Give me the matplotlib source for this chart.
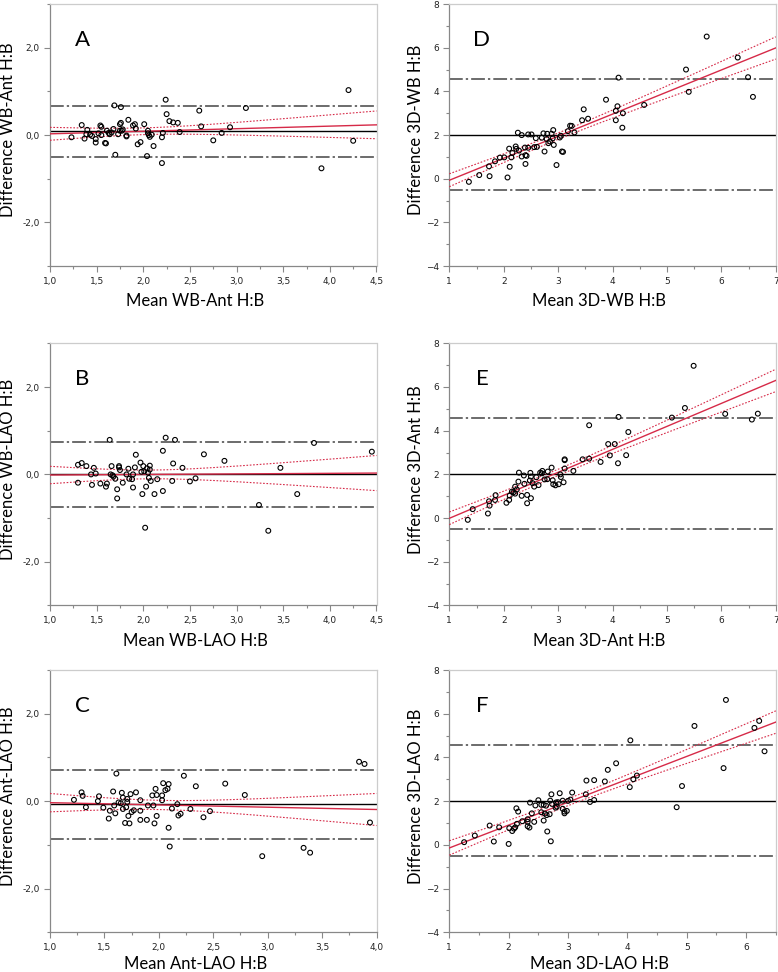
import matplotlib
matplotlib.use('Agg')
import matplotlib.pyplot as plt
from matplotlib.ticker import MultipleLocator, FuncFormatter
import numpy as np

# panel A: WB vs Ant
a_mean = [1.23, 1.34, 1.37, 1.40, 1.39, 1.43, 1.45, 1.49, 1.49, 1.52, 1.54, 1.55, 1.55, 1.59, 1.60,
          1.61, 1.63, 1.64, 1.66, 1.68, 1.69, 1.70, 1.73, 1.75, 1.75, 1.76, 1.76, 1.77, 1.78, 1.82,
          1.82, 1.84, 1.89, 1.91, 1.92, 1.94, 1.97, 2.01, 2.04, 2.05, 2.05, 2.06, 2.07, 2.09, 2.11,
          2.20, 2.20, 2.21, 2.24, 2.25, 2.28, 2.32, 2.37, 2.39, 2.60, 2.62, 2.75, 2.84, 2.93, 3.10,
          3.91, 4.20, 4.25]
a_diff = [-0.05, 0.23, -0.08, 0.12, 0.02, 0.01, -0.02, -0.09, -0.17, 0.04, 0.22, 0.19, 0.00, -0.18, -0.19,
          0.10, 0.05, 0.02, 0.06, 0.14, 0.68, -0.45, 0.02, 0.10, 0.25, 0.28, 0.64, 0.10, 0.13, -0.01,
          -0.03, 0.35, 0.22, 0.25, 0.15, -0.21, -0.16, 0.25, -0.48, 0.10, 0.04, 0.00, -0.04, 0.01, -0.25,
          -0.64, -0.05, 0.05, 0.81, 0.48, 0.32, 0.29, 0.28, 0.07, 0.56, 0.20, -0.12, 0.05, 0.18, 0.62,
          -0.76, 1.03, -0.13]

# panel B: WB vs LAO
b_mean = [1.30, 1.30, 1.34, 1.39, 1.44, 1.45, 1.47, 1.49, 1.54, 1.60, 1.61, 1.64, 1.65, 1.66, 1.67,
          1.68, 1.70, 1.72, 1.72, 1.74, 1.74, 1.75, 1.78, 1.82, 1.84, 1.85, 1.88, 1.89, 1.89, 1.91,
          1.92, 1.97, 1.98, 1.99, 2.00, 2.01, 2.02, 2.03, 2.04, 2.05, 2.06, 2.07, 2.07, 2.08, 2.12,
          2.15, 2.21, 2.21, 2.24, 2.31, 2.32, 2.34, 2.42, 2.50, 2.56, 2.65, 2.87, 3.24, 3.34, 3.47,
          3.65, 3.83, 4.45]
b_diff = [0.22, -0.19, 0.26, 0.19, 0.00, -0.24, 0.15, 0.02, -0.21, -0.28, -0.21, 0.79, 0.00, 0.19, -0.02,
          -0.05, -0.10, -0.55, -0.34, 0.19, 0.16, 0.10, -0.19, 0.00, 0.13, -0.10, -0.11, 0.00, -0.30, 0.16,
          0.45, 0.27, 0.06, -0.45, 0.19, 0.07, -1.22, -0.28, 0.14, 0.04, -0.08, 0.20, 0.11, -0.15, -0.45,
          -0.11, 0.54, -0.38, 0.84, -0.15, 0.25, 0.79, 0.15, -0.16, -0.09, 0.46, 0.31, -0.70, -1.29, 0.15,
          -0.45, 0.72, 0.52]

# panel C: Ant vs LAO
c_mean = [1.22, 1.29, 1.30, 1.33, 1.44, 1.45, 1.49, 1.54, 1.55, 1.58, 1.59, 1.60, 1.61, 1.63, 1.65,
          1.66, 1.67, 1.67, 1.69, 1.70, 1.71, 1.71, 1.72, 1.73, 1.74, 1.75, 1.77, 1.79, 1.83, 1.83,
          1.83, 1.89, 1.90, 1.94, 1.95, 1.96, 1.97, 1.98, 1.98, 2.03, 2.03, 2.04, 2.06, 2.08, 2.09,
          2.09, 2.10, 2.12, 2.17, 2.18, 2.20, 2.23, 2.29, 2.34, 2.41, 2.47, 2.61, 2.79, 2.95, 3.33,
          3.39, 3.84, 3.89, 3.94]
c_diff = [0.03, 0.20, 0.12, -0.14, 0.00, 0.11, -0.15, -0.40, -0.22, 0.22, -0.10, -0.28, 0.63, -0.03, -0.05,
          0.19, -0.18, 0.08, -0.50, -0.14, -0.02, 0.05, -0.34, -0.51, 0.16, -0.25, -0.21, 0.20, -0.22, 0.02,
          -0.43, -0.43, -0.10, 0.13, -0.10, -0.51, 0.28, 0.14, -0.34, 0.13, 0.02, 0.41, 0.25, 0.28, 0.39,
          -0.61, -1.04, -0.17, -0.07, -0.33, -0.29, 0.58, -0.18, 0.34, -0.37, -0.23, 0.40, 0.14, -1.26, -1.07,
          -1.18, 0.90, 0.85, -0.49]

# panel D: 3D vs WB
d_mean = [1.36, 1.55, 1.73, 1.74, 1.84, 1.93, 2.01, 2.07, 2.10, 2.11, 2.14, 2.16, 2.22, 2.23, 2.26,
          2.28, 2.33, 2.33, 2.39, 2.40, 2.40, 2.42, 2.45, 2.45, 2.51, 2.56, 2.59, 2.61, 2.70, 2.73,
          2.75, 2.79, 2.80, 2.82, 2.85, 2.88, 2.90, 2.91, 2.92, 2.97, 3.03, 3.05, 3.07, 3.09, 3.18,
          3.22, 3.25, 3.30, 3.44, 3.47, 3.55, 3.88, 4.06, 4.06, 4.09, 4.11, 4.18, 4.19, 4.58, 5.35,
          5.40, 5.73, 6.30, 6.49, 6.58]
d_diff = [-0.14, 0.17, 0.57, 0.12, 0.80, 0.97, 0.98, 0.06, 1.38, 0.55, 0.98, 1.18, 1.48, 1.37, 2.11,
          1.29, 2.00, 1.02, 1.43, 1.08, 0.68, 1.05, 2.03, 1.42, 2.03, 1.45, 1.86, 1.46, 1.88, 2.08,
          1.25, 1.82, 2.06, 1.63, 1.71, 2.06, 1.85, 2.23, 1.55, 0.63, 1.89, 1.97, 1.25, 1.23, 2.18,
          2.43, 2.42, 2.12, 2.68, 3.18, 2.75, 3.62, 2.68, 3.11, 3.32, 4.63, 2.34, 3.00, 3.38, 5.00,
          3.98, 6.51, 5.55, 4.65, 3.75]

# panel E: 3D vs Ant
e_mean = [1.34, 1.43, 1.71, 1.73, 1.74, 1.85, 1.84, 2.05, 2.10, 2.11, 2.15, 2.18, 2.21, 2.21, 2.24,
          2.28, 2.27, 2.33, 2.37, 2.38, 2.43, 2.43, 2.49, 2.48, 2.50, 2.50, 2.53, 2.56, 2.60, 2.64,
          2.67, 2.70, 2.71, 2.75, 2.80, 2.81, 2.88, 2.90, 2.91, 2.95, 3.01, 3.04, 3.05, 3.10, 3.12,
          3.12, 3.12, 3.28, 3.45, 3.57, 3.57, 3.78, 3.92, 3.95, 4.04, 4.10, 4.11, 4.25, 4.29, 5.09,
          5.33, 5.49, 6.07, 6.56, 6.67]
e_diff = [-0.08, 0.41, 0.21, 0.77, 0.57, 1.05, 0.83, 0.70, 0.83, 1.03, 1.21, 1.18, 1.44, 1.12, 1.31,
          2.08, 1.67, 1.02, 1.95, 1.57, 1.06, 0.68, 2.07, 1.72, 0.91, 1.90, 1.60, 1.44, 1.87, 1.51,
          2.08, 2.05, 2.16, 1.77, 1.78, 2.13, 2.31, 1.73, 1.55, 1.50, 1.55, 2.00, 1.88, 1.64, 2.69,
          2.65, 2.27, 2.16, 2.69, 4.25, 2.72, 2.57, 3.39, 2.87, 3.39, 2.51, 4.63, 2.88, 3.94, 4.60,
          5.04, 6.97, 4.77, 4.51, 4.78]

# panel F: 3D vs LAO
f_mean = [1.25, 1.43, 1.68, 1.75, 1.84, 2.00, 2.01, 2.06, 2.09, 2.11, 2.13, 2.14, 2.16, 2.23, 2.32,
          2.32, 2.32, 2.35, 2.36, 2.39, 2.43, 2.45, 2.50, 2.55, 2.55, 2.59, 2.59, 2.61, 2.63, 2.64,
          2.65, 2.69, 2.70, 2.72, 2.71, 2.73, 2.79, 2.80, 2.81, 2.83, 2.86, 2.91, 2.91, 2.94, 2.94,
          2.98, 3.00, 3.04, 3.07, 3.30, 3.31, 3.37, 3.44, 3.44, 3.62, 3.67, 3.81, 4.04, 4.05, 4.10,
          4.16, 4.83, 4.92, 5.13, 5.62, 5.66, 6.14, 6.22, 6.31]
f_diff = [0.12, 0.42, 0.88, 0.15, 0.80, 0.04, 0.76, 0.63, 0.74, 0.80, 1.67, 0.96, 1.52, 1.08, 1.05,
          1.17, 0.85, 0.79, 1.93, 1.44, 1.05, 1.80, 2.04, 1.83, 1.49, 1.83, 1.11, 1.43, 1.79, 1.36,
          0.61, 1.40, 2.02, 2.31, 0.16, 1.87, 1.70, 1.94, 1.75, 1.95, 2.36, 2.02, 1.65, 1.44, 1.52,
          1.55, 2.01, 2.07, 2.39, 2.31, 2.94, 1.96, 2.05, 2.96, 2.90, 3.43, 3.73, 2.64, 4.78, 3.00,
          3.17, 1.72, 2.69, 5.44, 3.51, 6.63, 5.35, 5.67, 4.28]

letters = ['A', 'B', 'C', 'D', 'E', 'F']
x_labels = ['Mean WB-Ant H:B', 'Mean WB-LAO H:B', 'Mean Ant-LAO H:B',
            'Mean 3D-WB H:B', 'Mean 3D-Ant H:B', 'Mean 3D-LAO H:B']
y_labels = ['Difference WB-Ant H:B', 'Difference WB-LAO H:B', 'Difference Ant-LAO H:B',
            'Difference 3D-WB H:B', 'Difference 3D-Ant H:B', 'Difference 3D-LAO H:B']
# bias and limits of agreement
bias = [0.09, 0.00, -0.07, 2.02, 2.03, 2.01]
loa_upper = [0.67, 0.75, 0.71, 4.56, 4.60, 4.55]
loa_lower = [-0.49, -0.75, -0.87, -0.52, -0.48, -0.51]
x_limits = [(1.0, 4.5), (1.0, 4.5), (1.0, 4.0), (1, 7), (1, 7), (1, 6.5)]
y_limits = [(-3, 3), (-3, 3), (-3, 3), (-4, 8), (-4, 8), (-4, 8)]

means = [a_mean, b_mean, c_mean, d_mean, e_mean, f_mean]
diffs = [a_diff, b_diff, c_diff, d_diff, e_diff, f_diff]

RED = '#d62a48'

fig = plt.figure(figsize=(7.78, 9.72), dpi=100)

W, H = 778.0, 972.0
lefts = [50, 449.3]
tops = [4, 343.3, 670]
ax_w = 326.5
ax_h = 262.2


def comma_fmt(decimals):
    def f(v, pos):
        s = f'{v:.{decimals}f}'.replace('.', ',')
        if s.startswith('-0') and float(v) == 0:
            s = s[1:]
        return s
    return FuncFormatter(f)


for i in range(6):
    col = i // 3
    row = i % 3
    rect = [lefts[col] / W, 1 - (tops[row] + ax_h) / H, ax_w / W, ax_h / H]
    ax = fig.add_axes(rect)
    x = np.array(means[i])
    y = np.array(diffs[i])
    x0, x1 = x_limits[i]

    # mean and limits of agreement
    ax.axhline(bias[i], color='black', lw=1.0, zorder=2)
    ax.axhline(loa_upper[i], color='#444444', lw=1.1, ls=(0, (9, 2, 1.5, 2)), zorder=2)
    ax.axhline(loa_lower[i], color='#444444', lw=1.1, ls=(0, (9, 2, 1.5, 2)), zorder=2)

    # regression of difference on mean with 95% CI
    slope, intercept = np.polyfit(x, y, 1)
    xs = np.linspace(x0, x1, 200)
    fit = intercept + slope * xs
    n = len(x)
    resid = y - (intercept + slope * x)
    s = np.sqrt(np.sum(resid ** 2) / (n - 2))
    sxx = np.sum((x - x.mean()) ** 2)
    se = s * np.sqrt(1.0 / n + (xs - x.mean()) ** 2 / sxx)
    ax.plot(xs, fit, color=RED, lw=1.0, zorder=3)
    ax.plot(xs, fit + 2.0 * se, color=RED, lw=0.8, ls=(0, (1.5, 1.5)), zorder=3)
    ax.plot(xs, fit - 2.0 * se, color=RED, lw=0.8, ls=(0, (1.5, 1.5)), zorder=3)

    ax.scatter(x, y, s=12, facecolors='none', edgecolors='black', linewidths=0.8, zorder=4)

    ax.set_xlim(x0, x1)
    ax.set_ylim(*y_limits[i])

    if col == 0:
        ax.xaxis.set_major_locator(MultipleLocator(0.5))
        ax.xaxis.set_minor_locator(MultipleLocator(0.25))
        ax.xaxis.set_major_formatter(comma_fmt(1))
        ax.set_yticks([-2, 0, 2])
        ax.yaxis.set_minor_locator(MultipleLocator(1))
        ax.yaxis.set_major_formatter(comma_fmt(1))
    else:
        ax.xaxis.set_major_locator(MultipleLocator(1))
        ax.xaxis.set_minor_locator(MultipleLocator(0.5))
        ax.set_yticks([-4, -2, 0, 2, 4, 6, 8])
        ax.yaxis.set_minor_locator(MultipleLocator(1))

    for side in ['left', 'bottom']:
        ax.spines[side].set_color('#888888')
        ax.spines[side].set_linewidth(0.9)
    for side in ['top', 'right']:
        ax.spines[side].set_color('#cccccc')
        ax.spines[side].set_linewidth(0.9)
    ax.tick_params(which='both', direction='out', color='#888888', labelsize=6.5,
                   labelcolor='#222222', width=0.8)
    ax.tick_params(which='major', length=4)
    ax.tick_params(which='minor', length=2.5)

    ax.text(0.1, 0.862, letters[i], transform=ax.transAxes, fontsize=16,
            family='Lato', ha='center', va='center')

    ax.set_xlabel(x_labels[i], fontsize=12, family='Lato')
    ax.set_ylabel(y_labels[i], fontsize=12, family='Lato')
    label_y = -0.09 if row == 2 else -0.103
    if col == 0:
        ax.xaxis.set_label_coords(0.445, label_y)
        ax.yaxis.set_label_coords(-0.104, 0.52)
    else:
        ax.xaxis.set_label_coords(0.46, label_y)
        ax.yaxis.set_label_coords(-0.077, 0.52)

fig.savefig('out.png', dpi=100)
